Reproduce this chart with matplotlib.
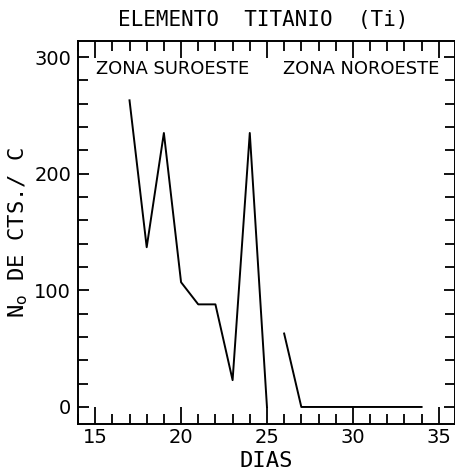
import matplotlib
matplotlib.use("Agg")
import matplotlib.pyplot as plt
from matplotlib.ticker import MultipleLocator

# Data
dias_suroeste = [17, 18, 19, 20, 21, 22, 23, 24, 25]
cts_suroeste = [263, 137, 235, 107, 88, 88, 23, 235, 0]
dias_noroeste = [26, 27, 28, 29, 30, 31, 32, 33, 34]
cts_noroeste = [63, 0, 0, 0, 0, 0, 0, 0, 0]

x_ticks = [15, 20, 25, 30, 35]
y_ticks = [0, 100, 200, 300]

plt.rcParams['font.family'] = ['DejaVu Sans']
mono = ['DejaVu Sans Mono', 'DejaVu Sans']

fig = plt.figure(figsize=(4.56, 4.72), dpi=100)
ax = fig.add_axes([0.171, 0.1017, 0.827, 0.811])

ax.plot(dias_suroeste, cts_suroeste, color='black', lw=1.4)
ax.plot(dias_noroeste, cts_noroeste, color='black', lw=1.4)

ax.set_xlim(14.0, 35.95)
ax.set_ylim(-14.6, 313.7)
ax.set_xticks(x_ticks)
ax.set_yticks(y_ticks)
ax.xaxis.set_minor_locator(MultipleLocator(1))
ax.yaxis.set_minor_locator(MultipleLocator(20))
ax.tick_params(which='both', direction='in', top=True, right=True,
               width=1.3, colors='black', labelsize=14)
ax.tick_params(axis='x', which='major', length=12, pad=3)
ax.tick_params(axis='x', which='minor', length=7)
ax.tick_params(axis='y', which='major', length=8, pad=5)
ax.tick_params(axis='y', which='minor', length=7)
for s in ax.spines.values():
    s.set_linewidth(1.4)

ax.text(0.048, 0.927, 'ZONA SUROESTE', transform=ax.transAxes,
        fontsize=12.9, ha='left', va='center')
ax.text(0.544, 0.927, 'ZONA NOROESTE', transform=ax.transAxes,
        fontsize=12.9, ha='left', va='center')

ax.set_title('ELEMENTO  TITANIO  (Ti)', fontsize=15, pad=11,
             family=mono, x=0.49)
ax.set_xlabel('DIAS', fontsize=16, labelpad=3, family=mono)
ax.set_ylabel('N$_\\mathrm{o}$ DE CTS./ C', fontsize=16, labelpad=3,
              family=mono)

fig.savefig('out.png', dpi=100)
